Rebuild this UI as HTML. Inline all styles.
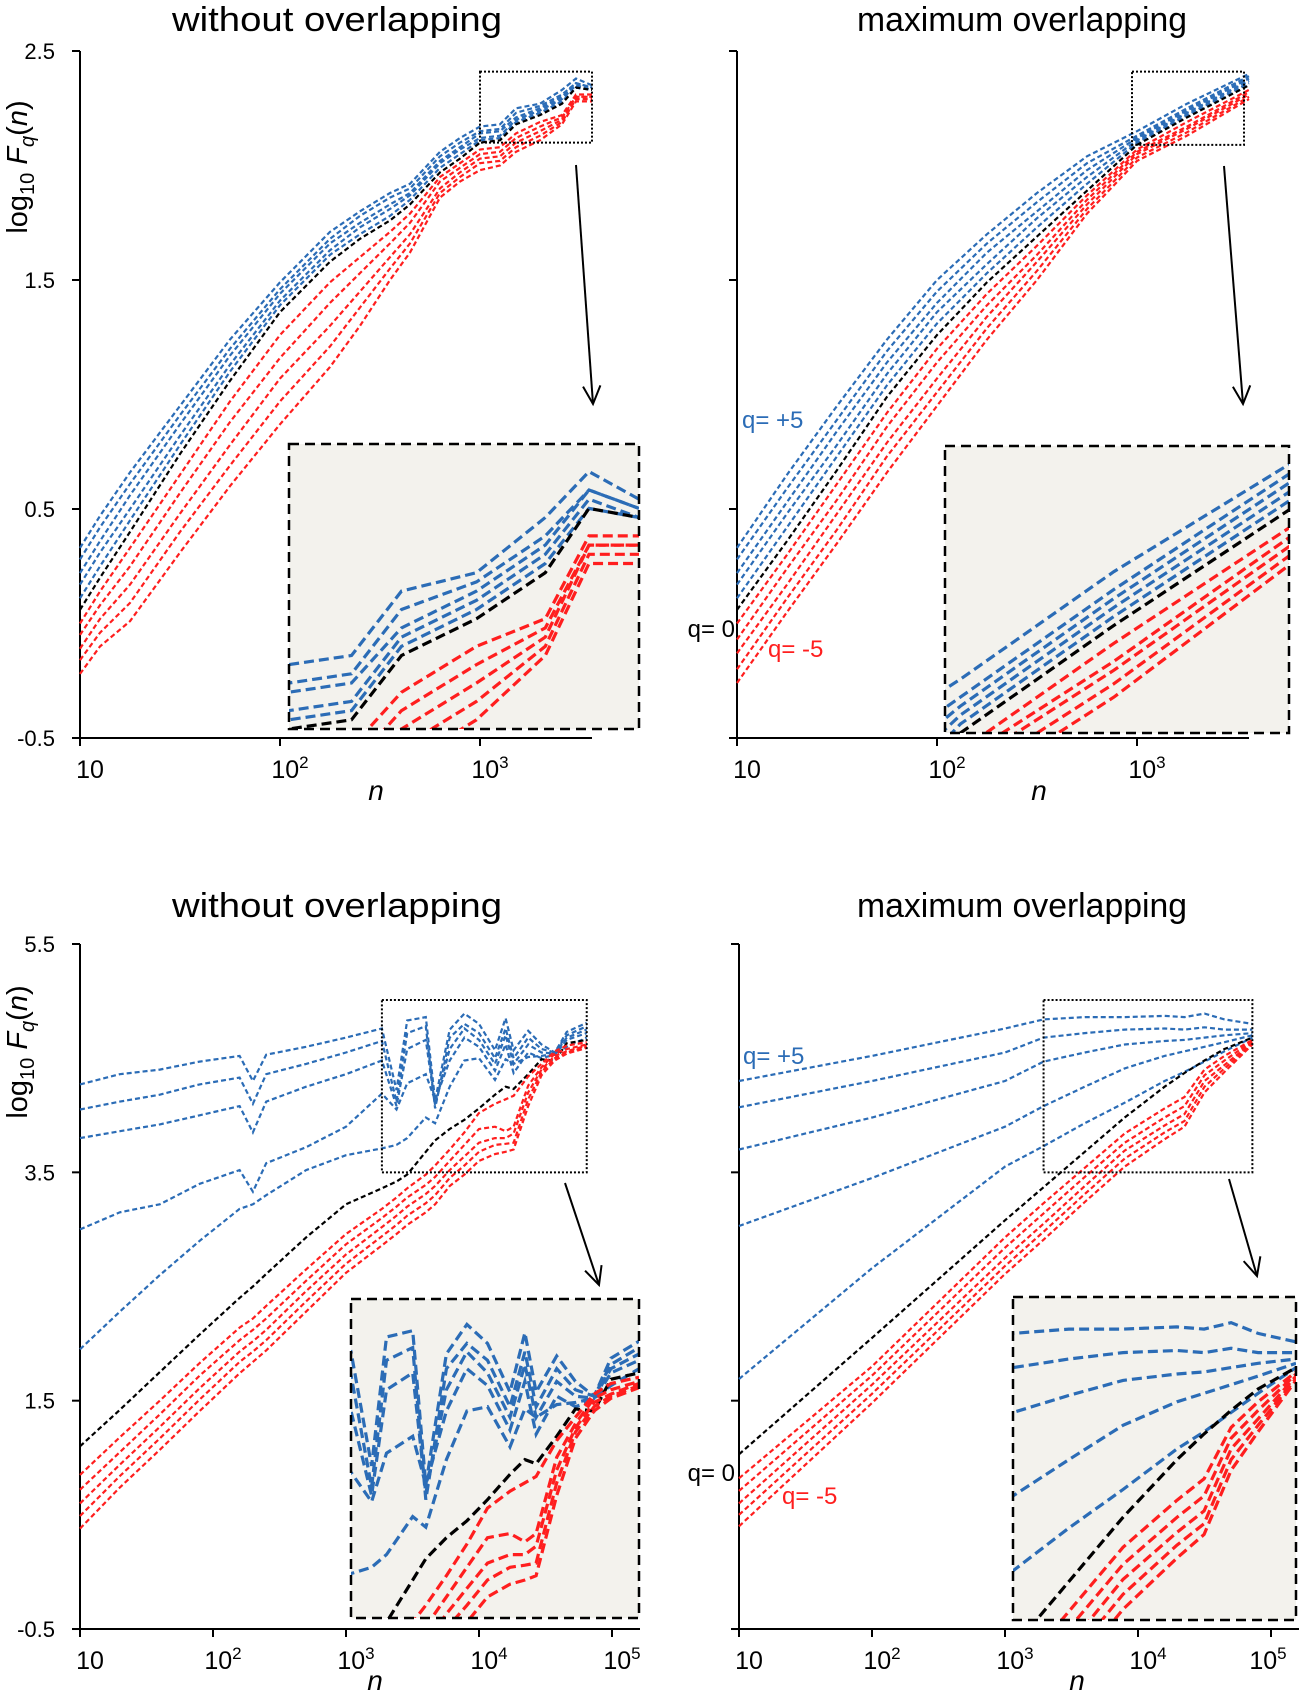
<!DOCTYPE html>
<html><head><meta charset="utf-8"><title>Fq(n) panels</title>
<style>
html,body{margin:0;padding:0;background:#fff;overflow:hidden;}
svg{display:block;font-family:"Liberation Sans",sans-serif;}
</style></head>
<body>
<svg id="fig" xmlns="http://www.w3.org/2000/svg" width="1299" height="1699" viewBox="0 0 1299 1699"></svg>
<script>
// ---------- DATA ----------
// series order: q=+5,+4,+3,+2,+1,0,-1,-2,-3,-4,-5
const qLabels = ["+5","+4","+3","+2","+1","0","-1","-2","-3","-4","-5"];

// Panel A: top-left (without overlapping, short series)
const aLogN = [1.0,1.1,1.25,1.5,1.75,2.0,2.25,2.4,2.55,2.65,2.8,2.9,3.0,3.1,3.18,3.3,3.41,3.48,3.56];
const aQp5 = [0.33,0.47,0.66,0.95,1.24,1.49,1.71,1.80,1.88,1.92,2.06,2.12,2.17,2.18,2.25,2.27,2.33,2.38,2.35];
const aQp4 = [0.28,0.42,0.61,0.91,1.20,1.46,1.68,1.78,1.86,1.90,2.04,2.10,2.15,2.16,2.23,2.26,2.31,2.36,2.34];
const aQp3 = [0.22,0.36,0.56,0.87,1.17,1.44,1.66,1.75,1.83,1.88,2.02,2.08,2.14,2.15,2.21,2.25,2.30,2.36,2.34];
const aQp2 = [0.17,0.31,0.50,0.82,1.13,1.41,1.63,1.73,1.81,1.87,2.01,2.07,2.12,2.13,2.20,2.24,2.29,2.35,2.33];
const aQp1 = [0.11,0.25,0.45,0.78,1.10,1.39,1.61,1.70,1.78,1.85,1.99,2.05,2.11,2.12,2.19,2.23,2.28,2.34,2.33];
const aQ0  = [0.06,0.20,0.40,0.74,1.06,1.36,1.58,1.68,1.76,1.83,1.97,2.03,2.10,2.11,2.18,2.22,2.27,2.34,2.33];
const aQm1 = [0.00,0.14,0.33,0.65,0.97,1.26,1.49,1.60,1.71,1.79,1.95,2.01,2.07,2.08,2.14,2.19,2.22,2.31,2.31];
const aQm2 = [-0.05,0.08,0.25,0.57,0.88,1.16,1.40,1.53,1.66,1.75,1.93,1.99,2.05,2.06,2.12,2.17,2.21,2.30,2.30];
const aQm3 = [-0.11,0.02,0.17,0.48,0.78,1.07,1.30,1.45,1.60,1.70,1.90,1.97,2.03,2.04,2.10,2.15,2.20,2.30,2.30];
const aQm4 = [-0.16,-0.04,0.09,0.40,0.69,0.97,1.21,1.38,1.55,1.66,1.88,1.95,2.01,2.02,2.08,2.13,2.19,2.29,2.29];
const aQm5 = [-0.22,-0.10,0.01,0.31,0.60,0.87,1.12,1.30,1.50,1.62,1.86,1.93,1.98,2.00,2.06,2.11,2.18,2.28,2.28];

// Panel B: top-right (maximum overlapping, short series)
const bLogN = [1,1.25,1.5,1.75,2,2.25,2.5,2.75,3,3.25,3.56];
const bQp5 = [0.33,0.65,0.95,1.24,1.50,1.70,1.88,2.04,2.15,2.27,2.40];
const bQp4 = [0.28,0.59,0.89,1.19,1.45,1.66,1.84,2.01,2.13,2.25,2.39];
const bQp3 = [0.22,0.53,0.84,1.14,1.40,1.62,1.80,1.98,2.12,2.24,2.38];
const bQp2 = [0.17,0.48,0.78,1.09,1.36,1.57,1.77,1.95,2.11,2.23,2.37];
const bQp1 = [0.11,0.42,0.73,1.04,1.31,1.53,1.73,1.92,2.10,2.22,2.36];
const bQ0  = [0.06,0.36,0.67,0.99,1.26,1.49,1.69,1.89,2.09,2.21,2.35];
const bQm1 = [0.00,0.30,0.61,0.92,1.20,1.44,1.65,1.87,2.07,2.19,2.33];
const bQm2 = [-0.07,0.24,0.54,0.86,1.14,1.39,1.61,1.85,2.06,2.17,2.32];
const bQm3 = [-0.13,0.17,0.48,0.79,1.07,1.34,1.58,1.83,2.05,2.16,2.31];
const bQm4 = [-0.20,0.11,0.41,0.73,1.01,1.29,1.54,1.81,2.035,2.145,2.30];
const bQm5 = [-0.26,0.05,0.35,0.66,0.95,1.24,1.50,1.79,2.02,2.13,2.29];

// Panel C: bottom-left (without overlapping, long series)
const cLogN = [1,1.3,1.6,1.9,2.2,2.3,2.4,2.7,3.0,3.27,3.38,3.46,3.60,3.67,3.78,3.89,4.0,4.12,4.2,4.26,4.37,4.47,4.57,4.66,4.81];
const cQp5 = [4.27,4.36,4.40,4.47,4.52,4.30,4.53,4.60,4.68,4.76,4.22,4.83,4.86,4.13,4.75,4.89,4.80,4.57,4.85,4.57,4.74,4.62,4.55,4.73,4.81];
const cQp4 = [4.05,4.12,4.18,4.27,4.33,4.10,4.36,4.45,4.55,4.65,4.12,4.72,4.78,4.06,4.68,4.80,4.72,4.50,4.76,4.50,4.68,4.58,4.55,4.70,4.78];
const cQp3 = [3.80,3.86,3.92,4.00,4.08,3.85,4.12,4.25,4.36,4.48,4.08,4.58,4.66,4.09,4.58,4.76,4.66,4.45,4.70,4.45,4.62,4.55,4.54,4.68,4.75];
const cQp2 = [3.00,3.15,3.22,3.40,3.52,3.33,3.58,3.72,3.90,4.19,4.05,4.28,4.36,4.13,4.48,4.68,4.60,4.39,4.62,4.37,4.55,4.50,4.53,4.66,4.72];
const cQp1 = [1.95,2.28,2.60,2.90,3.18,3.22,3.30,3.52,3.65,3.71,3.74,3.80,3.98,3.93,4.25,4.48,4.50,4.31,4.49,4.45,4.51,4.52,4.54,4.60,4.68];
const cQ0  = [1.10,1.42,1.75,2.08,2.40,2.50,2.61,2.93,3.22,3.36,3.42,3.48,3.68,3.78,3.88,3.96,4.06,4.18,4.25,4.23,4.36,4.49,4.48,4.63,4.66];
const cQm1 = [0.85,1.18,1.50,1.83,2.14,2.22,2.33,2.65,2.96,3.18,3.28,3.36,3.48,3.56,3.70,3.85,4.02,4.10,4.14,4.17,4.34,4.45,4.56,4.61,4.64];
const cQm2 = [0.72,1.05,1.38,1.72,2.03,2.12,2.22,2.55,2.87,3.10,3.20,3.28,3.39,3.46,3.60,3.74,3.88,3.90,3.86,3.90,4.26,4.42,4.54,4.58,4.62];
const cQm3 = [0.60,0.94,1.27,1.61,1.93,2.02,2.12,2.46,2.78,3.02,3.12,3.20,3.31,3.38,3.52,3.64,3.76,3.80,3.80,3.84,4.20,4.40,4.52,4.56,4.61];
const cQm4 = [0.49,0.84,1.17,1.51,1.84,1.93,2.03,2.37,2.70,2.94,3.04,3.12,3.23,3.30,3.45,3.56,3.68,3.74,3.75,3.76,4.14,4.38,4.50,4.55,4.60];
const cQm5 = [0.38,0.74,1.07,1.41,1.74,1.84,1.94,2.28,2.62,2.86,2.96,3.04,3.15,3.22,3.38,3.48,3.60,3.66,3.68,3.70,4.08,4.35,4.48,4.54,4.59];

// Panel D: bottom-right (maximum overlapping, long series)
const dLogN = [1,2,3,3.29,3.6,3.9,4.2,4.35,4.5,4.65,4.86];
const dQp5 = [4.30,4.52,4.76,4.84,4.86,4.86,4.87,4.86,4.89,4.84,4.80];
const dQp4 = [4.07,4.30,4.55,4.68,4.72,4.75,4.76,4.75,4.77,4.75,4.75];
const dQp3 = [3.70,3.98,4.30,4.47,4.55,4.62,4.65,4.66,4.68,4.70,4.72];
const dQp2 = [3.03,3.45,3.90,4.08,4.25,4.41,4.52,4.56,4.60,4.64,4.70];
const dQp1 = [1.69,2.66,3.55,3.73,3.93,4.11,4.30,4.38,4.47,4.56,4.68];
const dQ0  = [1.03,2.05,3.08,3.37,3.68,3.98,4.25,4.37,4.48,4.58,4.68];
const dQm1 = [0.82,1.80,2.93,3.23,3.54,3.84,4.06,4.16,4.40,4.52,4.66];
const dQm2 = [0.71,1.72,2.84,3.14,3.46,3.76,3.98,4.08,4.35,4.48,4.65];
const dQm3 = [0.60,1.64,2.75,3.05,3.38,3.69,3.91,4.01,4.30,4.44,4.64];
const dQm4 = [0.50,1.56,2.68,2.98,3.31,3.62,3.85,3.95,4.25,4.41,4.63];
const dQm5 = [0.40,1.48,2.61,2.91,3.24,3.55,3.79,3.90,4.20,4.38,4.62];

const yTicksTop = ["2.5","1.5","0.5","-0.5"];
const yTickValsTop = [2.5,1.5,0.5,-0.5];
const yTicksBot = ["5.5","3.5","1.5","-0.5"];
const yTickValsBot = [5.5,3.5,1.5,-0.5];
const xDecTop = [1,2,3];
const xDecBot = [1,2,3,4,5];

// ---------- RENDERING ----------
const NS = "http://www.w3.org/2000/svg";
const svg = document.getElementById("fig");
const BLUE = "#2b6cb6", RED = "#ff1e1e", BLACK = "#000";
function mk(tag, attrs, parent) {
  const e = document.createElementNS(NS, tag);
  for (const k in attrs) e.setAttribute(k, attrs[k]);
  (parent || svg).appendChild(e);
  return e;
}
function seriesColor(i) { return i < 5 ? BLUE : (i === 5 ? BLACK : RED); }

const panels = [
  {key:"top-left", title:"without overlapping", tx:337, ty:31, x0:80, dec:200, yTop:51, vTop:2.5, per:229, axEnd:592, yBot:738,
   logN:aLogN, series:[aQp5,aQp4,aQp3,aQp2,aQp1,aQ0,aQm1,aQm2,aQm3,aQm4,aQm5], ticks:yTicksTop, tickVals:yTickValsTop, labels:true, decs:xDecTop,
   box:{l0:3.0,l1:3.56,v0:2.10,v1:2.41}, inset:{x:289,y:444,w:350,h:285}, arrow:[576,165,593,404], nx:376, ny:800, ylab:167},
  {key:"top-right", title:"maximum overlapping", tx:1022, ty:31, x0:737, dec:200, yTop:51, vTop:2.5, per:229, axEnd:1249, yBot:738,
   logN:bLogN, series:[bQp5,bQp4,bQp3,bQp2,bQp1,bQ0,bQm1,bQm2,bQm3,bQm4,bQm5], ticks:yTicksTop, tickVals:yTickValsTop, labels:false, decs:xDecTop,
   box:{l0:2.975,l1:3.535,v0:2.09,v1:2.41}, inset:{x:945,y:446,w:344,h:287}, arrow:[1224,166,1243,404], nx:1039, ny:800,
   ann:[["q= +5",742,428,BLUE,"start"],["q= 0",735,637,BLACK,"end"],["q= -5",768,657,RED,"start"]]},
  {key:"bottom-left", title:"without overlapping", tx:337, ty:917, x0:80, dec:133, yTop:944, vTop:5.5, per:114.17, axEnd:640, yBot:1629,
   logN:cLogN, series:[cQp5,cQp4,cQp3,cQp2,cQp1,cQ0,cQm1,cQm2,cQm3,cQm4,cQm5], ticks:yTicksBot, tickVals:yTickValsBot, labels:true, decs:xDecBot,
   box:{l0:3.27,l1:4.81,v0:3.50,v1:5.01}, inset:{x:351,y:1299,w:288,h:319}, arrow:[565,1183,599,1285], nx:375, ny:1690, ylab:1052},
  {key:"bottom-right", title:"maximum overlapping", tx:1022, ty:917, x0:739, dec:133, yTop:944, vTop:5.5, per:114.17, axEnd:1299, yBot:1629,
   logN:dLogN, series:[dQp5,dQp4,dQp3,dQp2,dQp1,dQ0,dQm1,dQm2,dQm3,dQm4,dQm5], ticks:yTicksBot, tickVals:yTickValsBot, labels:false, decs:xDecBot,
   box:{l0:3.29,l1:4.86,v0:3.50,v1:5.01}, inset:{x:1013,y:1297,w:283,h:323}, arrow:[1229,1179,1257,1276], nx:1077, ny:1690,
   ann:[["q= +5",743,1064,BLUE,"start"],["q= 0",735,1481,BLACK,"end"],["q= -5",782,1504,RED,"start"]]}
];

const defs = mk("defs", {});
panels.forEach((P, pi) => {
  const g = mk("g", {});
  
  
  const X = l => P.x0 + (l - 1) * P.dec;
  const Y = v => P.yTop + (P.vTop - v) * P.per;

  const t = mk("text", {x:P.tx, y:P.ty, "font-size":34, "text-anchor":"middle", fill:"#000", textLength:330, lengthAdjust:"spacingAndGlyphs"}, g);
  t.textContent = P.title;
  
  

  const ya = mk("line", {x1:P.x0, y1:P.yTop, x2:P.x0, y2:P.yBot + 8, stroke:"#000", "stroke-width":2}, g);
  
  
  const xa = mk("line", {x1:P.x0 - 8, y1:P.yBot, x2:P.axEnd, y2:P.yBot, stroke:"#000", "stroke-width":2}, g);
  
  

  P.tickVals.forEach((v, i) => {
    const tk = mk("line", {x1:P.x0 - 8, y1:Y(v), x2:P.x0, y2:Y(v), stroke:"#000", "stroke-width":2}, g);
    
    
    if (P.labels) {
      const tl = mk("text", {x:P.x0 - 25, y:Y(v) + 8, "font-size":22, "text-anchor":"end", fill:"#000"}, g);
      tl.textContent = P.ticks[i];
      
      
    }
  });
  P.decs.forEach(d => {
    const tk = mk("line", {x1:X(d), y1:P.yBot, x2:X(d), y2:P.yBot + 8, stroke:"#000", "stroke-width":2}, g);
    
    
    const cx = Math.min(X(d) + 10, 1268);
    const tl = mk("text", {x:cx, y:P.yBot + 40, "font-size":25, "text-anchor":"middle", fill:"#000"}, g);
    
    
    if (d === 1) { tl.textContent = "10"; }
    else {
      const a = mk("tspan", {}, tl); a.textContent = "10";
      const b = mk("tspan", {dy:-10, "font-size":17}, tl); b.textContent = String(d);
    }
  });
  const nl = mk("text", {x:P.nx, y:P.ny, "font-size":28, "font-style":"italic", "text-anchor":"middle", fill:"#000"}, g);
  nl.textContent = "n";
  
  

  if (P.ylab) {
    const yl = mk("text", {x:0, y:0, "font-size":29, "text-anchor":"middle", fill:"#000", transform:`translate(27,${P.ylab}) rotate(-90)`}, g);
    
    
    const s1 = mk("tspan", {}, yl); s1.textContent = "log";
    const s2 = mk("tspan", {dy:7, "font-size":20}, yl); s2.textContent = "10";
    const s3 = mk("tspan", {dy:-7, "font-style":"italic"}, yl); s3.textContent = " F";
    const s4 = mk("tspan", {dy:7, "font-size":20, "font-style":"italic"}, yl); s4.textContent = "q";
    const s5 = mk("tspan", {dy:-7}, yl); s5.textContent = "(";
    const s6 = mk("tspan", {"font-style":"italic"}, yl); s6.textContent = "n";
    const s7 = mk("tspan", {}, yl); s7.textContent = ")";
  }

  // main series
  P.series.forEach((arr, si) => {
    const pts = arr.map((v, k) => X(P.logN[k]).toFixed(1) + "," + Y(v).toFixed(1)).join(" ");
    const pl = mk("polyline", {points:pts, fill:"none", stroke:seriesColor(si), "stroke-width":2.2, "stroke-dasharray":"5 3"}, g);
    
    
  });

  // dotted zoom box
  const B = P.box;
  const zb = mk("rect", {x:X(B.l0), y:Y(B.v1), width:X(B.l1) - X(B.l0), height:Y(B.v0) - Y(B.v1), fill:"none", stroke:"#000", "stroke-width":2, "stroke-dasharray":"2 2"}, g);
  
  

  // arrow
  const A = P.arrow;
  const ar = mk("line", {x1:A[0], y1:A[1], x2:A[2], y2:A[3], stroke:"#000", "stroke-width":2}, g);
  
  
  const ang = Math.atan2(A[3] - A[1], A[2] - A[0]);
  const hl = 20, ha = 0.45;
  const hp = `${A[2] - hl*Math.cos(ang - ha)},${A[3] - hl*Math.sin(ang - ha)} ${A[2]},${A[3]} ${A[2] - hl*Math.cos(ang + ha)},${A[3] - hl*Math.sin(ang + ha)}`;
  const ah = mk("polyline", {points:hp, fill:"none", stroke:"#000", "stroke-width":2}, g);
  
  

  // inset
  const I = P.inset;
  const cp = mk("clipPath", {id:"clip" + pi}, defs);
  mk("rect", {x:I.x, y:I.y, width:I.w, height:I.h}, cp);
  const ig = mk("g", {}, g);
  
  
  const bg = mk("rect", {x:I.x, y:I.y, width:I.w, height:I.h, fill:"#f3f2ed"}, ig);
  
  
  const IX = l => I.x + (l - B.l0) / (B.l1 - B.l0) * I.w;
  const IY = v => I.y + (B.v1 - v) / (B.v1 - B.v0) * I.h;
  const cg = mk("g", {"clip-path":`url(#clip${pi})`}, ig);
  P.series.forEach((arr, si) => {
    const pts = arr.map((v, k) => IX(P.logN[k]).toFixed(1) + "," + IY(v).toFixed(1)).join(" ");
    const pl = mk("polyline", {points:pts, fill:"none", stroke:seriesColor(si), "stroke-width":3.2, "stroke-dasharray":"10 5"}, cg);
    
    
  });
  const bd = mk("rect", {x:I.x, y:I.y, width:I.w, height:I.h, fill:"none", stroke:"#000", "stroke-width":2.5, "stroke-dasharray":"10 6"}, ig);
  
  

  if (P.ann) {
    P.ann.forEach(a => {
      const at = mk("text", {x:a[1], y:a[2], "font-size":24, fill:a[3], "text-anchor":a[4]}, g);
      at.textContent = a[0];
      
      
    });
  }
});
</script>
</body></html>
